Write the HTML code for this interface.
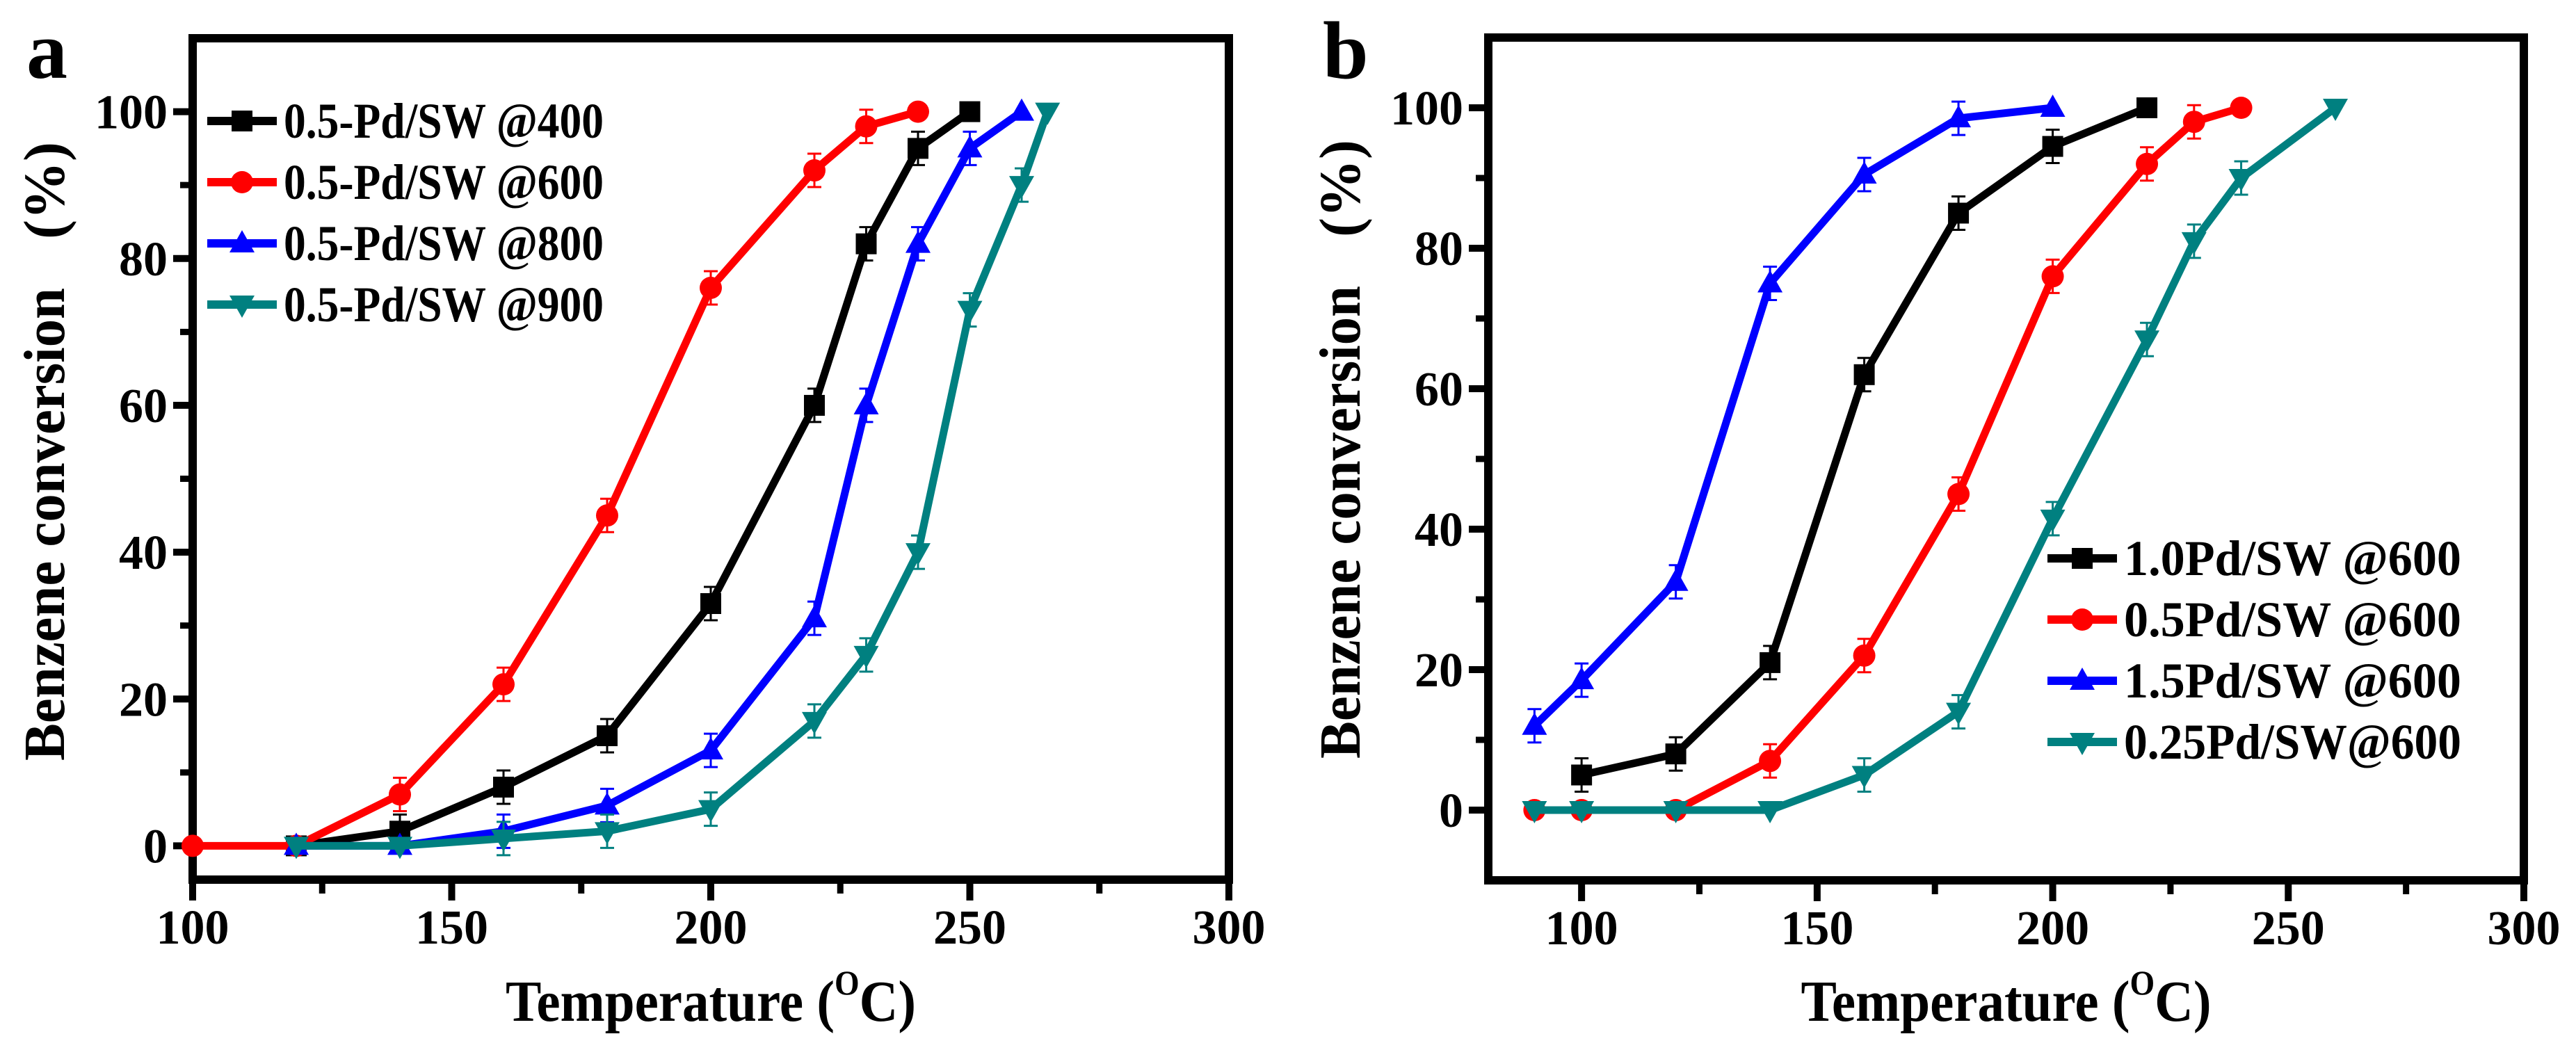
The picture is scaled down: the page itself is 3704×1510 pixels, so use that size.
<!DOCTYPE html>
<html><head><meta charset="utf-8"><style>
html,body{margin:0;padding:0;background:#fff;}
svg{display:block;font-family:"Liberation Serif",serif;font-weight:bold;}
</style></head><body>
<svg id="fig" width="3704" height="1510" viewBox="0 0 3704 1510" xmlns="http://www.w3.org/2000/svg"></svg>
<script>
// Panel a data
const aXs400=[120,140,160,180,200,220,230,240,250];
const aYs400=[0,2,8,15,33,60,82,95,100];
const aXs600=[100,120,140,160,180,200,220,230,240];
const aYs600=[0,0,7,22,45,76,92,98,100];
const aXs800=[120,140,160,180,200,220,230,240,250,260];
const aYs800=[0,0,2,5.5,13,31,60,82,95,100];
const aXs900=[120,140,160,180,200,220,230,240,250,260,265];
const aYs900=[0,0,1,2,5,17,26,40,73,90,100];
const aLegend=["0.5-Pd/SW @400","0.5-Pd/SW @600","0.5-Pd/SW @800","0.5-Pd/SW @900"];
// Panel b data
const bXs10=[100,120,140,160,180,200,220];
const bYs10=[5,8,21,62,85,94.5,100];
const bXs05=[90,100,120,140,160,180,200,220,230,240];
const bYs05=[0,0,0,7,22,45,76,92,98,100];
const bXs15=[90,100,120,140,160,180,200];
const bYs15=[12,18.5,32.5,75,90.5,98.5,100];
const bXs025=[90,100,120,140,160,180,200,220,230,240,260];
const bYs025=[0,0,0,0,5,14,41.5,67,81,90,100];
const bLegend=["1.0Pd/SW @600","0.5Pd/SW @600","1.5Pd/SW @600","0.25Pd/SW@600"];
const xTicks=[100,150,200,250,300];
const yTicks=[0,20,40,60,80,100];

const NS="http://www.w3.org/2000/svg";
const svg=document.getElementById('fig');
function el(tag,attrs,parent,text){const e=document.createElementNS(NS,tag);for(const k in attrs)e.setAttribute(k,attrs[k]);if(text!==undefined)e.textContent=text;(parent||svg).appendChild(e);return e;}

function marker(g,shape,cx,cy,color){
  let m;
  const s=15;
  if(shape==='square')m=el('rect',{x:cx-s,y:cy-s,width:2*s,height:2*s,fill:color},g);
  else if(shape==='circle')m=el('circle',{cx:cx,cy:cy,r:s+1,fill:color},g);
  else if(shape==='up')m=el('polygon',{points:`${cx},${cy-s-4} ${cx-s-3},${cy+s-2} ${cx+s+3},${cy+s-2}`,fill:color},g);
  else m=el('polygon',{points:`${cx},${cy+s+4} ${cx-s-3},${cy-s+2} ${cx+s+3},${cy-s+2}`,fill:color},g);
  return m;
}

function panel(cfg){
  const {id,L,R,T,B,xMin,xMax,yMin,yMax,series,legend,legX,legY,legDy,legLen,letter,letterX,yLabelX,yLabelC}=cfg;
  const sx=v=>L+(v-xMin)/(xMax-xMin)*(R-L);
  const sy=v=>B-(v-yMin)/(yMax-yMin)*(B-T);
  const g=el('g',{});
  
  
  const fr=el('rect',{x:L,y:T,width:R-L,height:B-T,fill:'none',stroke:'#000','stroke-width':12},g);
  
  
  for(const t of xTicks){
    const x=sx(t);
    el('line',{x1:x,y1:B,x2:x,y2:B+30,stroke:'#000','stroke-width':10},g);
    const tl=el('text',{x:x,y:B+92,'font-size':70,'text-anchor':'middle'},g,String(t));
    
    
  }
  for(let t=125;t<300;t+=50){const x=sx(t);if(x>L)el('line',{x1:x,y1:B,x2:x,y2:B+20,stroke:'#000','stroke-width':9},g);}
  for(const t of yTicks){
    const y=sy(t);
    el('line',{x1:L-28,y1:y,x2:L,y2:y,stroke:'#000','stroke-width':10},g);
    const tl=el('text',{x:L-36,y:y+24,'font-size':70,'text-anchor':'end'},g,String(t));
    
    
  }
  for(let t=yMin<0?-10:10;t<110;t+=20){const y=sy(t);if(y<B-5&&y>T)el('line',{x1:L-18,y1:y,x2:L,y2:y,stroke:'#000','stroke-width':9},g);}
  const xt=el('text',{x:(L+R)/2-295,y:1468,'font-size':84,textLength:590,lengthAdjust:'spacingAndGlyphs'},g);
  
  
  xt.appendChild(document.createTextNode('Temperature ('));
  el('tspan',{'font-size':50,dy:-38},xt,'O');
  el('tspan',{dy:38},xt,'C)');
  const yt=el('text',{x:-416,y:0,'font-size':84,transform:`translate(${yLabelX},${yLabelC}) rotate(-90)`},g);
  
  
  el('tspan',{textLength:680,lengthAdjust:'spacingAndGlyphs'},yt,'Benzene conversion');
  el('tspan',{dx:70},yt,'(%)');
  const pl=el('text',{x:letterX,y:112,'font-size':118},g,letter);
  
  
  series.forEach((s,i)=>{
    const sg=el('g',{},g);
    
    
    const pts=s.xs.map((x,j)=>sx(x)+','+sy(s.ys[j])).join(' ');
    el('polyline',{points:pts,fill:'none',stroke:s.color,'stroke-width':11,'stroke-linejoin':'round'},sg);
    s.xs.forEach((x,j)=>{
      const cx=sx(x),cy=sy(s.ys[j]);
      if(s.ys[j]>0&&s.ys[j]<100){
        el('line',{x1:cx,y1:cy-24,x2:cx,y2:cy+24,stroke:s.color,'stroke-width':3},sg);
        el('line',{x1:cx-10,y1:cy-24,x2:cx+10,y2:cy-24,stroke:s.color,'stroke-width':3},sg);
        el('line',{x1:cx-10,y1:cy+24,x2:cx+10,y2:cy+24,stroke:s.color,'stroke-width':3},sg);
      }
      const m=marker(sg,s.shape,cx,cy,s.color);
      
      
    });
    const lg=el('g',{},g);
    
    
    const ly=legY+i*legDy;
    el('line',{x1:legX,y1:ly,x2:legX+100,y2:ly,stroke:s.color,'stroke-width':12},lg);
    marker(lg,s.shape,legX+50,ly,s.color);
    el('text',{x:legX+110,y:ly+24,'font-size':72,textLength:legLen,lengthAdjust:'spacingAndGlyphs'},lg,legend[i]);
  });
}

panel({id:'a',L:277,R:1767,T:55,B:1265,xMin:100,xMax:300,yMin:-4.6,yMax:110,letter:'a',letterX:38,yLabelX:92,yLabelC:678,
  legX:298,legY:174,legDy:88,legLen:460,legend:aLegend,
  series:[
    {key:'a-400',xs:aXs400,ys:aYs400,color:'#000000',shape:'square'},
    {key:'a-600',xs:aXs600,ys:aYs600,color:'#ff0000',shape:'circle'},
    {key:'a-800',xs:aXs800,ys:aYs800,color:'#0000ff',shape:'up'},
    {key:'a-900',xs:aXs900,ys:aYs900,color:'#008080',shape:'down'}]});
panel({id:'b',L:2140,R:3629,T:54,B:1266,xMin:80.2,xMax:300,yMin:-10,yMax:110,letter:'b',letterX:1902,yLabelX:1955,yLabelC:675,
  legX:2944,legY:803,legDy:88,legLen:485,legend:bLegend,
  series:[
    {key:'b-1.0',xs:bXs10,ys:bYs10,color:'#000000',shape:'square'},
    {key:'b-0.5',xs:bXs05,ys:bYs05,color:'#ff0000',shape:'circle'},
    {key:'b-1.5',xs:bXs15,ys:bYs15,color:'#0000ff',shape:'up'},
    {key:'b-0.25',xs:bXs025,ys:bYs025,color:'#008080',shape:'down'}]});
</script>
</body></html>
